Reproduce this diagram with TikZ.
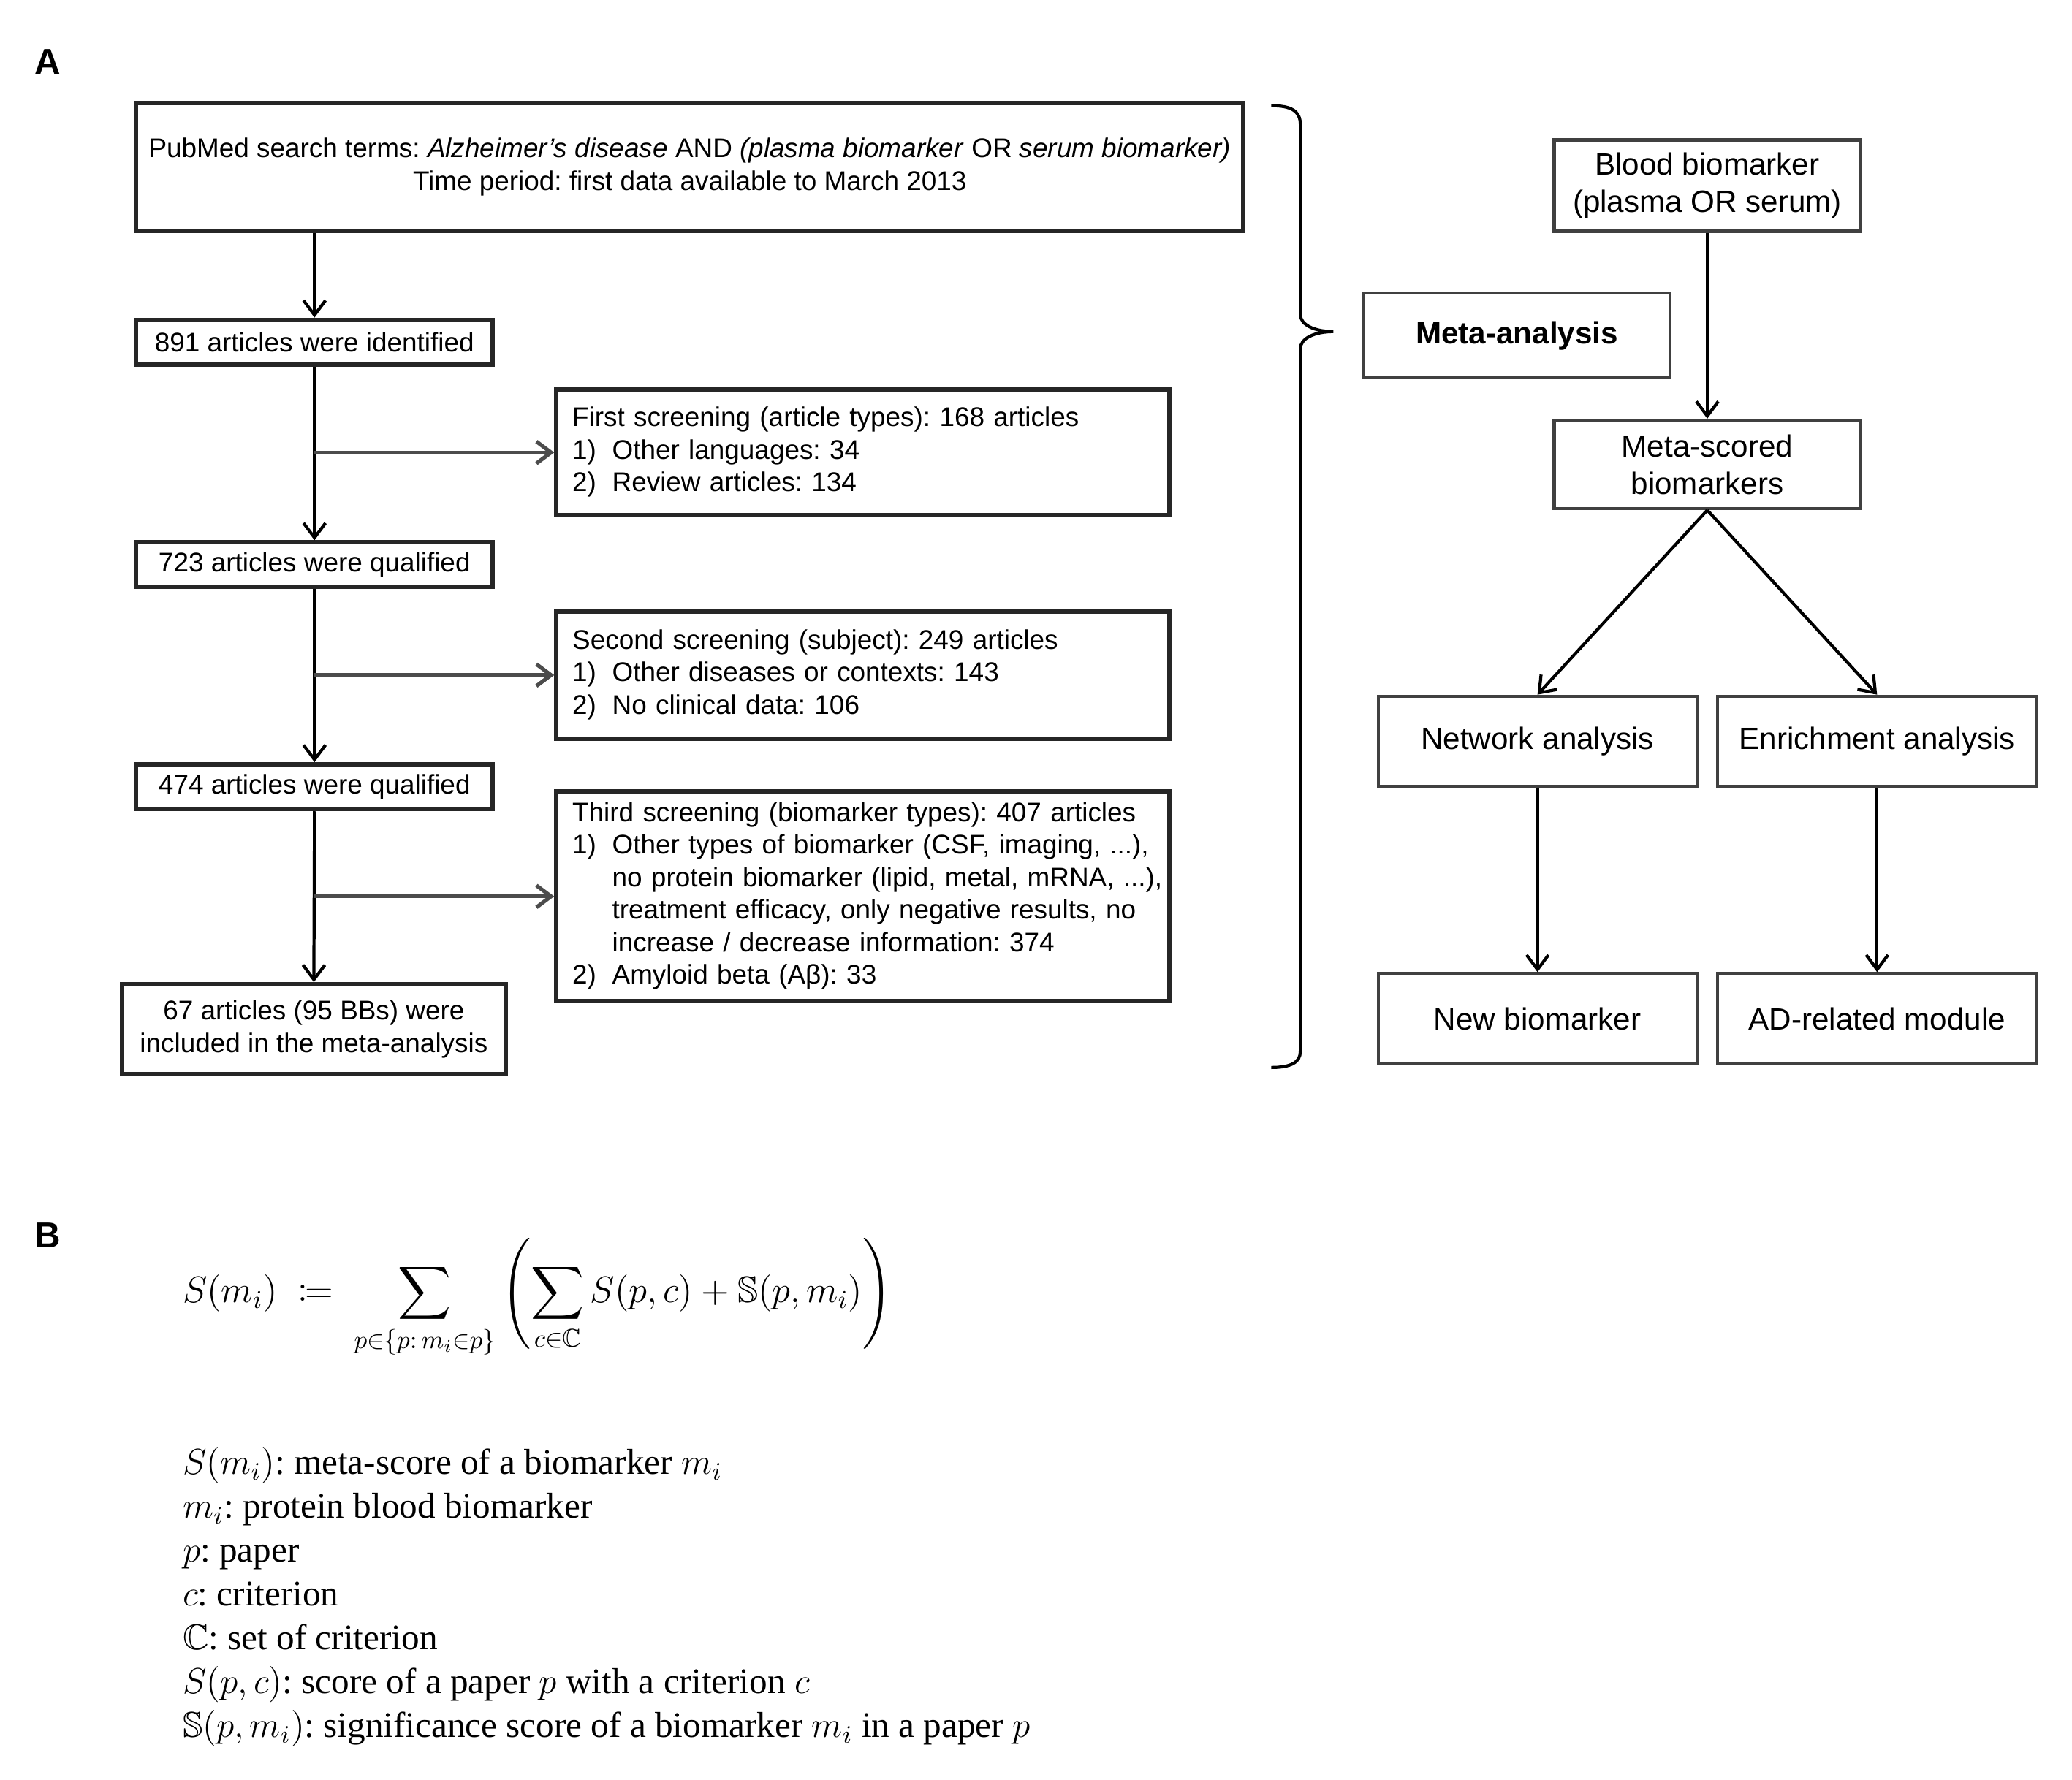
\documentclass[tikz,border=0pt]{standalone}
\usepackage{fix-cm}
\usepackage{amssymb,mathtools}
\usepackage{fontspec}
\setmainfont{Liberation Serif}
\setsansfont{Liberation Sans}
\usetikzlibrary{arrows.meta}
\frenchspacing

\begin{document}
\begin{tikzpicture}[x=0.01808cm,y=-0.01808cm,
  flowbox/.style={draw=black!85,line width=1.6pt,inner sep=0pt,align=center,
    font=\sffamily\fontsize{10.5}{12.9}\selectfont},
  countbox/.style={flowbox,minimum width=4.88cm,minimum height=0.615cm},
  sidebox/.style={flowbox,align=left,text width=7.95cm,inner xsep=0.22cm,minimum height=#1,
    font=\sffamily\fontsize{10.5}{12.66}\selectfont},
  stagebox/.style={draw=black!75,line width=1.2pt,inner sep=0pt,align=center,
    minimum width=4.36cm,minimum height=1.23cm,font=\sffamily\fontsize{12}{14.5}\selectfont},
  arr/.style={line width=1.2pt,-{Straight Barb[length=2mm,width=3mm]}},
  sidearr/.style={arr,draw=black!70,line width=1.5pt},
  panel/.style={font=\sffamily\bfseries\fontsize{14}{16}\selectfont},
  defline/.style={anchor=base west,inner sep=0pt,font=\fontsize{14}{16}\selectfont}]

\useasboundingbox (0,0) rectangle (1568,1346.8);

\node[panel] (A) at (36,47) {A};
\node[panel] (B) at (36,935) {B};

% search and screening
\begin{scope}
\node[flowbox,minimum width=15.15cm,minimum height=1.75cm] (search) at (522,126.5)
  {PubMed search terms: \textit{Alzheimer’s disease} AND \textit{(plasma biomarker} OR \textit{serum biomarker)}\\
   Time period: first data available to March 2013};
\node[countbox] (n891) at (238,259) {891 articles were identified};
\node[countbox] (n723) at (238,427.5) {723 articles were qualified};
\node[countbox] (n474) at (238,595.5) {474 articles were qualified};
\node[flowbox,minimum width=5.26cm,minimum height=1.23cm] (n67) at (237.5,779)
  {67 articles (95 BBs) were\\included in the meta-analysis};

\node[sidebox=1.72cm] (scr1) at (653,342.5) {%
  \begin{tabular}{@{}p{0.545cm}@{}l@{}}
  \multicolumn{2}{@{}l@{}}{First screening (article types): 168 articles}\\
  1) & Other languages: 34\\
  2) & Review articles: 134
  \end{tabular}};
\node[sidebox=1.74cm] (scr2) at (653,511) {%
  \begin{tabular}{@{}p{0.545cm}@{}l@{}}
  \multicolumn{2}{@{}l@{}}{Second screening (subject): 249 articles}\\
  1) & Other diseases or contexts: 143\\
  2) & No clinical data: 106
  \end{tabular}};
\node[sidebox=2.87cm] (scr3) at (653,678.5) {%
  \begin{tabular}{@{}p{0.545cm}@{}l@{}}
  \multicolumn{2}{@{}l@{}}{Third screening (biomarker types): 407 articles}\\
  1) & Other types of biomarker (CSF, imaging, ...),\\
     & no protein biomarker (lipid, metal, mRNA, ...),\\
     & treatment efficacy, only negative results, no\\
     & increase / decrease information: 374\\
  2) & Amyloid beta (Aβ): 33
  \end{tabular}};

\draw[arr] (search.south -| n891.north) -- (n891.north);
\draw[arr] (n891.south) -- (n723.north);
\draw[arr] (n723.south) -- (n474.north);
\draw[arr] (n474.south) -- (n67.north);
\draw[sidearr] (scr1.west -| n891.south) -- (scr1.west);
\draw[sidearr] (scr2.west -| n723.south) -- (scr2.west);
\draw[sidearr] (scr3.west -| n474.south) -- (scr3.west);
\end{scope}

% brace
\draw[line width=1.2pt] (962,80) .. controls (977,80) and (984,84) .. (984,94) -- (984,238)
  .. controls (984,246) and (995,251) .. (1009,251)
  .. controls (995,251) and (984,256) .. (984,264) -- (984,796)
  .. controls (984,804) and (977,808) .. (962,808);

% meta-analysis workflow
\begin{scope}
\node[stagebox,minimum width=4.19cm,minimum height=1.16cm,font=\sffamily\bfseries\fontsize{12}{14.5}\selectfont]
  (meta) at (1148,254) {Meta-analysis};
\node[stagebox,minimum width=4.19cm,minimum height=1.25cm] (blood) at (1292,140.5)
  {Blood biomarker\\(plasma OR serum)};
\node[stagebox,minimum width=4.19cm,minimum height=1.21cm] (scored) at (1292,351.5)
  {Meta-scored\\biomarkers};
\node[stagebox] (network) at (1163.5,561) {Network analysis};
\node[stagebox] (enrich) at (1420.5,561) {Enrichment analysis};
\node[stagebox] (newbm) at (1163.5,771) {New biomarker};
\node[stagebox] (module) at (1420.5,771) {AD-related module};

\draw[arr] (blood) -- (scored);
\draw[arr] (scored.south) -- (network.north);
\draw[arr] (scored.south) -- (enrich.north);
\draw[arr] (network) -- (newbm);
\draw[arr] (enrich) -- (module);
\end{scope}

% meta-score
\node[anchor=base west,inner sep=0pt,font=\fontsize{14.4}{17}\selectfont] (score) at (138,986)
  {$\displaystyle S(m_i)\;\coloneqq\;\sum_{p\in\{p:\,m_i\in p\}}\left(\sum_{c\in\mathbb{C}}S(p,c)+\mathbb{S}(p,m_i)\right)$};

\foreach \txt [count=\i from 0] in {
  {$S(m_i)$: meta-score of a biomarker $m_i$},
  {$m_i$: protein blood biomarker},
  {$p$: paper},
  {$c$: criterion},
  {$\mathbb{C}$: set of criterion},
  {$S(p,c)$: score of a paper $p$ with a criterion $c$},
  {$\mathbb{S}(p,m_i)$: significance score of a biomarker $m_i$ in a paper $p$}}
  \node[defline] (def\i) at (138,1116+33.2*\i) {\txt};

\end{tikzpicture}
\end{document}
